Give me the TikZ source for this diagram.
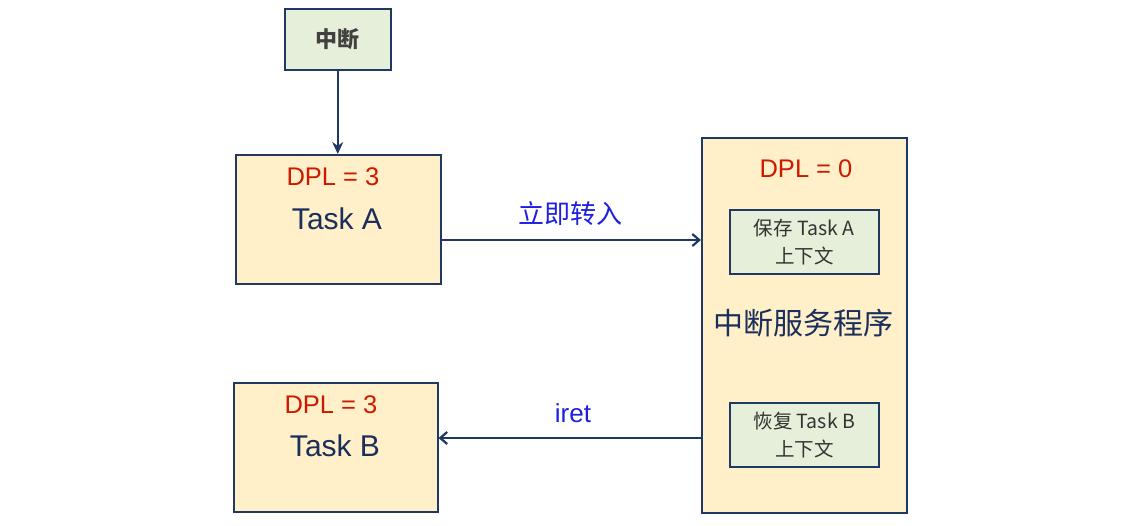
\documentclass[tikz,border=0pt]{standalone}
\usepackage{fontspec}
\setmainfont{Liberation Sans}
\newfontfamily\cjk{Noto Sans CJK SC}
\usetikzlibrary{arrows.meta}
\definecolor{navy}{HTML}{1F3864}
\definecolor{boxyel}{HTML}{FFF0C9}
\definecolor{boxgrn}{HTML}{E6EFD9}
\definecolor{dplred}{HTML}{CC1A00}
\definecolor{lblblue}{HTML}{1F1FE0}
\definecolor{txtnavy}{HTML}{1A2F5C}
\tikzset{
  ybox/.style={draw=navy, line width=1.5pt, fill=boxyel, inner sep=0pt, anchor=north west},
  gbox/.style={draw=navy, line width=1.5pt, fill=boxgrn, inner sep=0pt, anchor=north west},
  dpl/.style={text=dplred, font=\fontsize{25.5}{30}\selectfont},
  task/.style={text=txtnavy, font=\fontsize{30}{36}\selectfont},
  conn/.style={draw=navy, line width=2.2pt},
  lbl/.style={text=lblblue, font=\cjk\fontsize{26}{30}\selectfont},
  small/.style={text=black!80, font=\cjk\fontsize{19.5}{28}\selectfont, align=center},
}
\begin{document}
\begin{tikzpicture}[x=1pt,y=-1pt]
\useasboundingbox (0,0) rectangle (1146,525);
% boxes
\node[gbox, minimum width=106pt, minimum height=61pt] (int) at (284,8) {};
\node[text=black!75, font=\cjk\bfseries\fontsize{22}{26}\selectfont] at (int.center) {中断};
\node[ybox, minimum width=205pt, minimum height=129pt] (ta) at (235,154) {};
\node[ybox, minimum width=204pt, minimum height=129pt] (tb) at (233,382) {};
\node[ybox, minimum width=205pt, minimum height=375pt] (isr) at (701,137) {};
\node[gbox, minimum width=149pt, minimum height=64pt] (save) at (729,209) {};
\node[gbox, minimum width=149pt, minimum height=64pt] (rest) at (729,402) {};
% texts
\node[dpl] (tad) at (333,177) {DPL = 3};
\node[task] (tat) at (337,219) {Task A};
\node[dpl] (tbd) at (331,405) {DPL = 3};
\node[task] (tbt) at (335,446) {Task B};
\node[dpl] (isrd) at (806,169) {DPL = 0};
\node[text=txtnavy, font=\cjk\fontsize{30}{34}\selectfont] (isrt) at (803,323) {中断服务程序};
\node[small] at (save.center) {保存 Task A\\上下文};
\node[small] at (rest.center) {恢复 Task B\\上下文};
% connectors
\draw[conn, -{Stealth[length=12pt,width=11pt]}] (int.south) -- (int.south |- ta.north);
\coordinate (a1) at (ta.east |- 0,240);
\coordinate (a2) at (isr.west |- 0,240);
\draw[conn, -{Straight Barb[length=7pt,width=12pt]}] (a1) -- (a2);
\coordinate (b1) at (isr.west |- 0,438);
\coordinate (b2) at (tb.east |- 0,438);
\draw[conn, -{Straight Barb[length=7pt,width=12pt]}] (b1) -- (b2);
\node[lbl] (l1) at (570,214) {立即转入};
\node[lbl, font=\fontsize{26}{30}\selectfont] (l2) at (573,413) {iret};
\end{tikzpicture}
\end{document}
